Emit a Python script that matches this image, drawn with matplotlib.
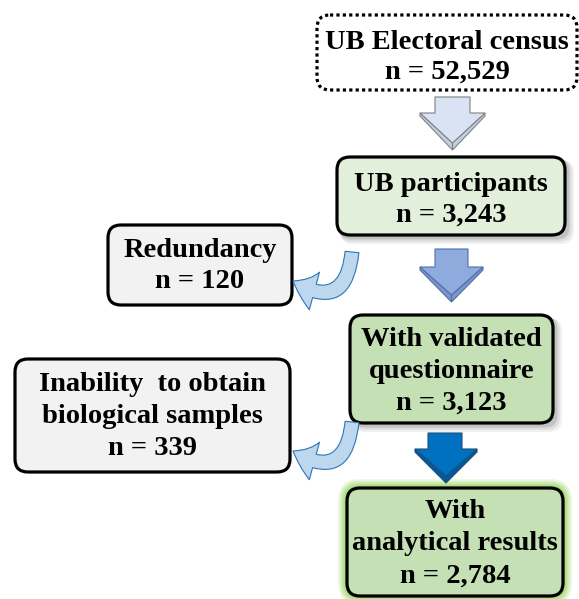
import matplotlib
matplotlib.use("Agg")
import matplotlib.pyplot as plt
from matplotlib.patches import FancyBboxPatch, Polygon, FancyArrowPatch

# ---- data ----
main_labels = ["UB Electoral census", "UB participants",
               "With validated\nquestionnaire", "With\nanalytical results"]
main_counts = [52529, 3243, 3123, 2784]
excl_labels = ["Redundancy", "Inability  to obtain\nbiological samples"]
excl_counts = [120, 339]

# ---- layout (pixel coordinates) ----
W, H = 579, 599
main_boxes = [(317, 15, 577, 90), (337, 157, 565, 235),
              (350, 315, 553, 423), (347, 488, 563, 596)]
main_fills = ["white", "#e2efda", "#c5e0b4", "#c5e0b4"]
main_dy = [5, 4, 2, 2]
main_ls = [1.25, 1.3, 1.36, 1.38]
excl_boxes = [(108, 225, 292, 305), (15, 359, 290, 472)]
excl_fill = "#f2f2f2"
excl_ls = [1.36, 1.36]
# block arrows: x0, x1, shaft x0, shaft x1, top, shaft bottom, tip
down_arrows = [(420, 485, 435, 470, 97, 113, 150),
               (420, 483, 435, 468, 249, 267, 302),
               (415, 477, 428, 462, 433, 449, 483)]
down_fills = ["#dae3f3", "#8faadc", "#0070c0"]
down_edges = ["#808080", "#4f6fa8", "#1f4e79"]
down_bevel = ["#c3cfe6", "#7a96c9", "#005a9e"]
curve_arrows = [((352, 252), (293, 281)), ((352, 422), (293, 451))]

fig = plt.figure(figsize=(W / 100, H / 100), dpi=100)
ax = fig.add_axes([0, 0, 1, 1])
ax.set_xlim(0, W)
ax.set_ylim(H, 0)
ax.axis("off")

FONT = dict(family=["Liberation Serif", "DejaVu Serif"], weight="bold",
            fontsize=20.5, color="black")


def rbox(b, fill, ls="-", z=3, shadow=False, glow=False):
    x0, y0, x1, y1 = b
    r = 13
    if glow:
        for i, a in enumerate([0.15, 0.2, 0.25, 0.3, 0.4]):
            p = 9 - i * 1.7
            ax.add_patch(FancyBboxPatch((x0 + r - p, y0 + r - p),
                                        (x1 - x0) - 2 * r + 2 * p, (y1 - y0) - 2 * r + 2 * p,
                                        boxstyle=f"round,pad={r},rounding_size={r + p}",
                                        fc="#8fd14f", ec="none", alpha=a, zorder=z - 1))
    if shadow:
        for i, a in enumerate([0.06, 0.08, 0.12]):
            d = 6 - i * 1.5
            ax.add_patch(FancyBboxPatch((x0 + r + d * 0.5, y0 + r + d * 0.5),
                                        (x1 - x0) - 2 * r + d, (y1 - y0) - 2 * r + d,
                                        boxstyle=f"round,pad={r},rounding_size={r}",
                                        fc="black", ec="none", alpha=a, zorder=z - 1))
    ax.add_patch(FancyBboxPatch((x0 + r, y0 + r), (x1 - x0) - 2 * r, (y1 - y0) - 2 * r,
                                boxstyle=f"round,pad={r},rounding_size={r}",
                                fc=fill, ec="black", lw=2.3, ls=ls, zorder=z))


for i, (b, lab, n) in enumerate(zip(main_boxes, main_labels, main_counts)):
    rbox(b, main_fills[i], ls=(0, (1, 1.0)) if i == 0 else "-",
         shadow=(i in (1, 2)), glow=(i == 3))
    cx, cy = (b[0] + b[2]) / 2, (b[1] + b[3]) / 2
    ax.text(cx, cy + main_dy[i], f"{lab}\nn = {n:,}", ha="center", va="center",
            linespacing=main_ls[i], zorder=5, **FONT)

for j, (b, lab, n) in enumerate(zip(excl_boxes, excl_labels, excl_counts)):
    rbox(b, excl_fill)
    cx, cy = (b[0] + b[2]) / 2, (b[1] + b[3]) / 2
    ax.text(cx, cy + 1, f"{lab}\nn = {n:,}", ha="center", va="center",
            linespacing=excl_ls[j], zorder=5, **FONT)

for (x0, x1, s0, s1, yt, ys, ytip), fc, ec, bc in zip(down_arrows, down_fills,
                                                      down_edges, down_bevel):
    xc = (x0 + x1) / 2
    face = [(s0, yt), (s1, yt), (s1, ys), (x1, ys), (xc, ytip - 7),
            (x0, ys), (s0, ys)]
    ax.add_patch(Polygon([(x0, ys), (xc, ytip - 7), (xc, ytip), (x0, ys + 3)],
                         closed=True, fc=bc, ec=ec, lw=0.8, zorder=4))
    ax.add_patch(Polygon([(x1, ys), (xc, ytip - 7), (xc, ytip), (x1, ys + 3)],
                         closed=True, fc=bc, ec=ec, lw=0.8, zorder=4))
    ax.add_patch(Polygon(face, closed=True, fc=fc, ec=ec, lw=0.8, zorder=4))

for (s, e) in curve_arrows:
    arr = FancyArrowPatch(s, e, connectionstyle="arc3,rad=-0.8",
                          arrowstyle="simple,head_width=28,head_length=17,tail_width=10",
                          fc="#bdd7ee", ec="#2e75b6", lw=0.8, zorder=4,
                          shrinkA=0, shrinkB=0)
    ax.add_patch(arr)

fig.savefig("out.png", dpi=100)
